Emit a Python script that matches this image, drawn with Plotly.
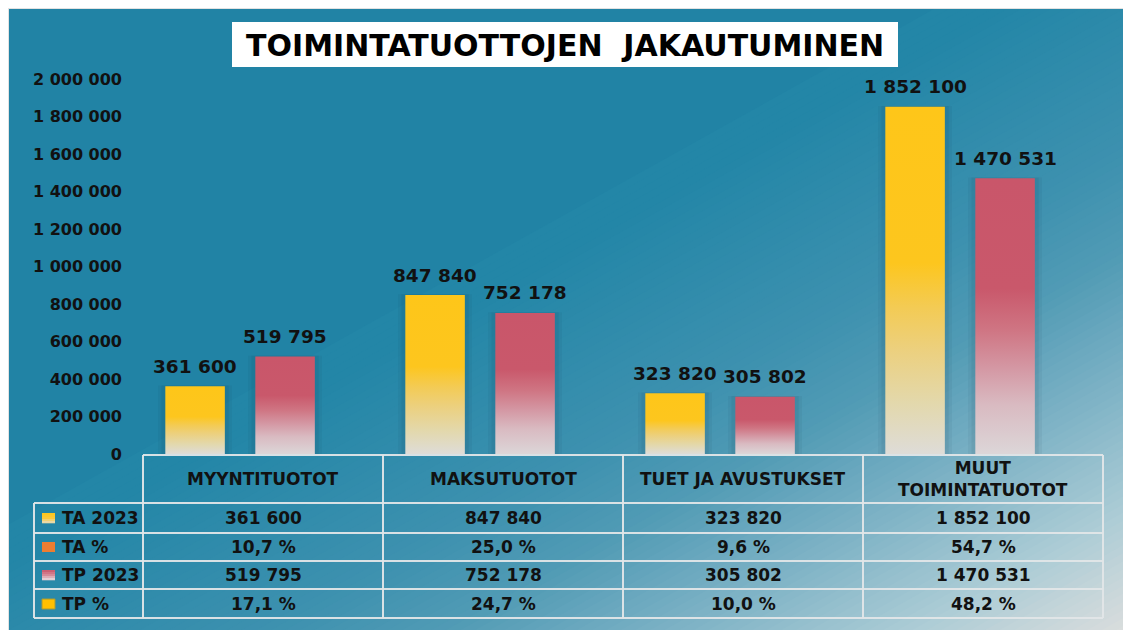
import plotly.graph_objects as go

# ---------------- data ----------------
categories = ["MYYNTITUOTOT", "MAKSUTUOTOT", "TUET JA AVUSTUKSET", "MUUT<br>TOIMINTATUOTOT"]
series_names = ["TA 2023", "TA %", "TP 2023", "TP %"]
ta_2023 = [361600, 847840, 323820, 1852100]
ta_pct = [10.7, 25.0, 9.6, 54.7]
tp_2023 = [519795, 752178, 305802, 1470531]
tp_pct = [17.1, 24.7, 10.0, 48.2]
y_tick_values = [0, 200000, 400000, 600000, 800000, 1000000, 1200000,
                 1400000, 1600000, 1800000, 2000000]
title_text = "TOIMINTATUOTTOJEN  JAKAUTUMINEN"

# ---------------- geometry (in page pixels) ----------------
W, H = 1131, 630            # page / figure size
OX, OY = 8, 8               # page offset of the figure (body margin)
PL, PR, PT, PB = 143, 1103, 79, 454   # plot area in page pixels
PW, PH = PR - PL, PB - PT


def xp(px):
    return (px - PL) / PW


def yp(py):
    return (PB - py) / PH


FONT = "DejaVu Sans"
TXT = "#111111"


def fmt_int(v):
    return f"{v:,}".replace(",", " ")


def fmt_pct(v):
    return f"{v:.1f}".replace(".", ",") + " %"


def hex2rgb(h):
    h = h.lstrip("#")
    return tuple(int(h[i:i + 2], 16) for i in (0, 2, 4))


def lerp_scale(stops, t):
    for (t0, c0), (t1, c1) in zip(stops[:-1], stops[1:]):
        if t0 <= t <= t1:
            a = (t - t0) / (t1 - t0) if t1 > t0 else 0
            r0, g0, b0 = hex2rgb(c0)
            r1, g1, b1 = hex2rgb(c1)
            return "rgb(%d,%d,%d)" % (round(r0 + (r1 - r0) * a),
                                      round(g0 + (g1 - g0) * a),
                                      round(b0 + (b1 - b0) * a))
    return stops[-1][1] if t > stops[-1][0] else stops[0][1]


shapes = []

# ---------------- background gradient (diagonal) ----------------
bg_stops = [(0.0, "#2183a5"), (0.45, "#2386a7"), (0.62, "#3d91af"),
            (0.70, "#519bb5"), (0.80, "#7db2c5"), (0.90, "#aacbd5"),
            (1.0, "#dadddd")]
shapes.append(dict(type="rect", xref="paper", yref="paper", x0=xp(0), x1=xp(W + 20),
                   y0=yp(H + 20), y1=yp(0), fillcolor="#2183a5", line_width=0, layer="below"))
N = 90
t_start = 0.42
for k in range(N):
    t1 = t_start + (1.0 - t_start) * k / N
    t2 = t_start + (1.0 - t_start) * (k + 1) / N + 0.004
    col = lerp_scale(bg_stops, (t1 + t2) / 2)
    pts = []
    for c, pyv in ((2 * t1, -60), (2 * t1, H + 60), (2 * t2, H + 60), (2 * t2, -60)):
        pxv = W * (c - pyv / H)
        pts.append((xp(pxv), yp(pyv)))
    path = "M %f %f L %f %f L %f %f L %f %f Z" % tuple(v for p in pts for v in p)
    shapes.append(dict(type="path", xref="paper", yref="paper", path=path,
                       fillcolor=col, line_width=0, layer="below"))

# thin grey frame line at top and left
shapes += [
    dict(type="rect", xref="paper", yref="paper", x0=xp(OX), x1=xp(W + 20), y0=yp(OY + 1), y1=yp(OY),
         fillcolor="#e2e2e2", line_width=0, layer="below"),
    dict(type="rect", xref="paper", yref="paper", x0=xp(OX), x1=xp(OX + 1), y0=yp(H + 20), y1=yp(OY),
         fillcolor="#e2e2e2", line_width=0, layer="below"),
]

# ---------------- title box ----------------
shapes.append(dict(type="rect", xref="paper", yref="paper", x0=xp(232), x1=xp(898),
                   y0=yp(67), y1=yp(22), fillcolor="white", line_width=0, layer="below"))

# ---------------- data table lines ----------------
LC = "rgba(225,230,232,0.95)"
LW = 2
col_edges = [143 + 240 * i for i in range(5)]  # 143..1103
row_lines = [503, 533, 561, 589, 618]
shapes.append(dict(type="line", xref="paper", yref="paper", x0=xp(143), x1=xp(1103),
                   y0=yp(455), y1=yp(455), line=dict(color=LC, width=LW)))
for ry in row_lines:
    shapes.append(dict(type="line", xref="paper", yref="paper", x0=xp(34), x1=xp(1103),
                       y0=yp(ry), y1=yp(ry), line=dict(color=LC, width=LW)))
for cx in col_edges:
    shapes.append(dict(type="line", xref="paper", yref="paper", x0=xp(cx), x1=xp(cx),
                       y0=yp(455), y1=yp(618), line=dict(color=LC, width=LW)))
shapes.append(dict(type="line", xref="paper", yref="paper", x0=xp(34), x1=xp(34),
                   y0=yp(503), y1=yp(618), line=dict(color=LC, width=LW)))

# legend keys in the table
row_centers = [518, 547, 575, 604]
key_x0, key_x1 = 42, 55


def grad_key(cy, stops):
    n = 5
    top, bot = cy - 5, cy + 5
    for i in range(n):
        a0 = top + (bot - top) * i / n
        a1 = top + (bot - top) * (i + 1) / n + 0.3
        t = 1 - (i + 0.5) / n
        shapes.append(dict(type="rect", xref="paper", yref="paper", x0=xp(key_x0), x1=xp(key_x1),
                           y0=yp(a1), y1=yp(a0), fillcolor=lerp_scale(stops, t), line_width=0))


yellow_key = [(0.0, "#e6ddc0"), (0.5, "#fbc93a"), (1.0, "#fec619")]
red_key = [(0.0, "#e8dfe3"), (0.5, "#d58a98"), (1.0, "#c9566a")]
grad_key(row_centers[0], yellow_key)
shapes.append(dict(type="rect", xref="paper", yref="paper", x0=xp(key_x0), x1=xp(key_x1),
                   y0=yp(row_centers[1] + 5), y1=yp(row_centers[1] - 5),
                   fillcolor="#ed7d31", line_width=0))
grad_key(row_centers[2], red_key)
shapes.append(dict(type="rect", xref="paper", yref="paper", x0=xp(key_x0), x1=xp(key_x1),
                   y0=yp(row_centers[3] + 5), y1=yp(row_centers[3] - 5),
                   fillcolor="#ffc000", line=dict(color="#a89a35", width=1)))

# ---------------- bars ----------------
BAR_W = 0.248
OFF_TA = -0.283
OFF_TP = 0.092
yellow_scale = [[0, "#dedcd8"], [0.15, "#e3d8ab"], [0.3, "#ecd07e"], [0.42, "#f3cb55"],
                [0.55, "#fdc61e"], [1, "#fec619"]]
red_scale = [[0, "#dcd6d8"], [0.18, "#d9bac1"], [0.31, "#d498a4"], [0.45, "#cf7583"],
             [0.6, "#c9586b"], [1, "#c9566a"]]

fig = go.Figure()


def add_bar(xc, v, scale, name, show):
    # soft shadow
    for extra, alpha in ((0.03, 0.05), (0.016, 0.07)):
        x0, x1 = xc - BAR_W / 2 - extra, xc + BAR_W / 2 + extra
        fig.add_trace(go.Scatter(x=[x0, x0, x1, x1, x0], y=[0, v + 4000, v + 4000, 0, 0],
                                 fill="toself", mode="lines", line=dict(width=0),
                                 fillcolor="rgba(10,40,60,%.2f)" % alpha,
                                 hoverinfo="skip", showlegend=False))
    x0, x1 = xc - BAR_W / 2, xc + BAR_W / 2
    fig.add_trace(go.Scatter(x=[x0, x0, x1, x1, x0], y=[0, v, v, 0, 0],
                             fill="toself", mode="lines", line=dict(width=0),
                             fillgradient=dict(type="vertical", colorscale=scale),
                             name=name, legendgroup=name, showlegend=show,
                             hoverinfo="skip"))


annotations = []
for i in range(len(categories)):
    add_bar(i + OFF_TA, ta_2023[i], yellow_scale, series_names[0], i == 0)
    add_bar(i + OFF_TP, tp_2023[i], red_scale, series_names[2], i == 0)
    for off, v in ((OFF_TA, ta_2023[i]), (OFF_TP, tp_2023[i])):
        annotations.append(dict(x=i + off, y=v, xref="x", yref="y", text=fmt_int(v),
                                showarrow=False, yanchor="middle", yshift=20,
                                font=dict(family=FONT, size=18.5, color=TXT, weight="bold")))

# ---------------- table text ----------------
tfont = dict(family=FONT, size=17, color=TXT, weight="bold")
for i, c in enumerate(categories):
    annotations.append(dict(x=i, y=yp(479), xref="x", yref="paper", text=c,
                            showarrow=False, font=tfont, yanchor="middle"))
rows = [
    [fmt_int(v) for v in ta_2023],
    [fmt_pct(v) for v in ta_pct],
    [fmt_int(v) for v in tp_2023],
    [fmt_pct(v) for v in tp_pct],
]
for r, vals in enumerate(rows):
    annotations.append(dict(x=xp(60), y=yp(row_centers[r]), xref="paper", yref="paper",
                            text=series_names[r], showarrow=False, xanchor="left",
                            yanchor="middle", font=tfont))
    for i, t in enumerate(vals):
        annotations.append(dict(x=i, y=yp(row_centers[r]), xref="x", yref="paper", text=t,
                                showarrow=False, yanchor="middle", font=tfont))

# title
annotations.append(dict(x=xp(565), y=yp(45), xref="paper", yref="paper", text=title_text,
                        showarrow=False, xanchor="center", yanchor="middle",
                        font=dict(family=FONT, size=30, color="#000000", weight="bold")))

fig.update_layout(
    width=W, height=H,
    margin=dict(l=PL - OX, r=W + OX - PR, t=PT - OY, b=H + OY - PB, pad=0),
    paper_bgcolor="white",
    plot_bgcolor="rgba(0,0,0,0)",
    separators=", ",
    showlegend=False,
    hovermode=False,
    shapes=shapes,
    annotations=annotations,
    xaxis=dict(range=[-0.5, len(categories) - 0.5], showgrid=False, zeroline=False,
               showline=False, showticklabels=False, ticks="", fixedrange=True),
    yaxis=dict(range=[0, 2000000], tickvals=y_tick_values, showgrid=False, zeroline=False,
               showline=False, ticks="", exponentformat="none", separatethousands=True,
               tickformat=",d", ticklabelstandoff=20,
               tickfont=dict(family=FONT, size=16, color=TXT, weight="bold"),
               fixedrange=True),
)

fig.write_html("out.html")
